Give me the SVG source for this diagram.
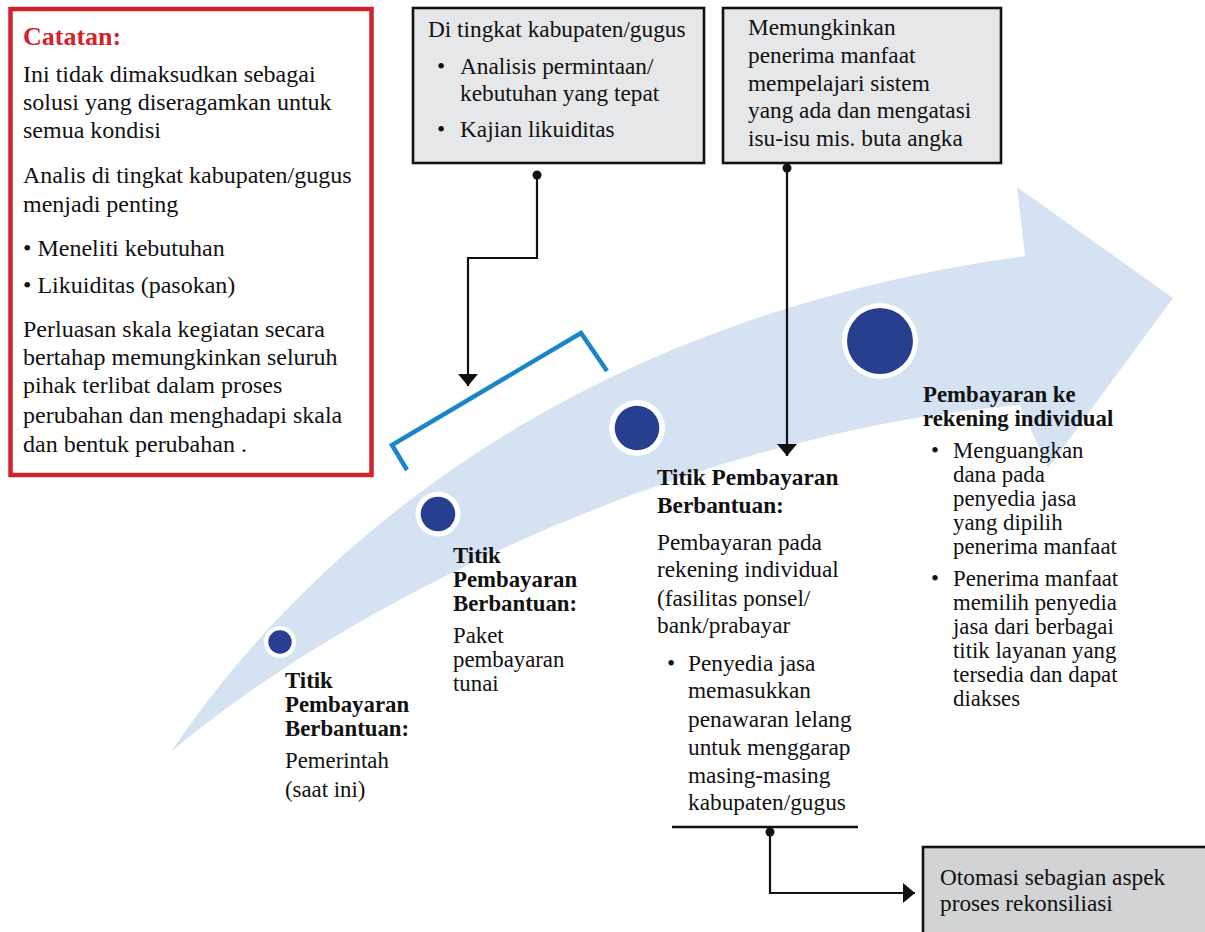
<svg xmlns="http://www.w3.org/2000/svg" width="1205" height="932" viewBox="0 0 1205 932">
<style>
text{font-family:"Liberation Serif","Times New Roman",serif;fill:#111;font-size:23.3px}
.b{font-weight:bold}
.r{font-size:24px}
.t{font-size:22.8px}
.box{fill:#e6e7e8;stroke:#111;stroke-width:2.6}
.dot{fill:#273f8e}
.ring{fill:#fff}
.con{fill:none;stroke:#111;stroke-width:2.2}
</style>
<defs>
<marker id="ah" viewBox="0 0 12 20" refX="12" refY="10" markerWidth="12" markerHeight="20" markerUnits="userSpaceOnUse" orient="auto">
<path d="M0,0 L12,10 L0,20 z" fill="#111"/>
</marker>
<marker id="dt" viewBox="0 0 10 10" refX="5" refY="5" markerWidth="10" markerHeight="10" markerUnits="userSpaceOnUse">
<circle cx="5" cy="5" r="4.5" fill="#111"/>
</marker>
</defs>
<rect width="1205" height="932" fill="#fff"/>
<g id="band">
<path d="M171,752 C300,560 560,320 1025,256 L1017,187 L1173,298 L1048,468 L1020,405 C700,430 350,600 171,752 Z" fill="#d4e2f2"/>
</g>
<g id="bracket">
<polyline points="407,470 392,445 581,333 607,371" fill="none" stroke="#1a86c8" stroke-width="4.5"/>
</g>
<g id="point1">
<circle class="ring" cx="280" cy="642" r="16"/>
<circle class="dot" cx="280" cy="642" r="11.7"/>
</g>
<g id="point2">
<circle class="ring" cx="438" cy="514" r="22.5"/>
<circle class="dot" cx="438" cy="514" r="17.3"/>
</g>
<g id="point3">
<circle class="ring" cx="637" cy="428" r="28"/>
<circle class="dot" cx="637" cy="428" r="22.3"/>
</g>
<g id="point4">
<circle class="ring" cx="880" cy="341" r="38"/>
<circle class="dot" cx="880" cy="341" r="33"/>
</g>
<g id="catatan">
<rect x="10.5" y="9" width="361" height="466" fill="#fff" stroke="#d2232a" stroke-width="4.5"/>
<text x="23" y="45" class="b" style="fill:#d2232a;font-size:26px">Catatan:</text>
<text class="r" x="23" y="82">Ini tidak dimaksudkan sebagai</text>
<text class="r" x="23" y="110">solusi yang diseragamkan untuk</text>
<text class="r" x="23" y="138">semua kondisi</text>
<text class="r" x="23" y="183">Analis di tingkat kabupaten/gugus</text>
<text class="r" x="23" y="212">menjadi penting</text>
<text class="r" x="23" y="256">• Meneliti kebutuhan</text>
<text class="r" x="23" y="293">• Likuiditas (pasokan)</text>
<text class="r" x="23" y="337">Perluasan skala kegiatan secara</text>
<text class="r" x="23" y="365">bertahap memungkinkan seluruh</text>
<text class="r" x="23" y="393">pihak terlibat dalam proses</text>
<text class="r" x="23" y="423">perubahan dan menghadapi skala</text>
<text class="r" x="23" y="452">dan bentuk perubahan .</text>
</g>
<g id="box-kabupaten">
<rect class="box" x="413" y="8" width="291" height="155"/>
<text x="428" y="37">Di tingkat kabupaten/gugus</text>
<text x="437" y="74">•</text>
<text x="460" y="74">Analisis permintaan/</text>
<text x="460" y="101">kebutuhan yang tepat</text>
<text x="437" y="137">•</text>
<text x="460" y="137">Kajian likuiditas</text>
</g>
<g id="box-memungkinkan">
<rect class="box" x="723" y="8" width="278" height="155"/>
<text x="748" y="35">Memungkinkan</text>
<text x="748" y="63">penerima manfaat</text>
<text x="748" y="91">mempelajari sistem</text>
<text x="748" y="118">yang ada dan mengatasi</text>
<text x="748" y="146">isu-isu mis. buta angka</text>
</g>
<g id="label1" class="t">
<text class="b t" x="285" y="688">Titik</text>
<text class="b t" x="285" y="712">Pembayaran</text>
<text class="b t" x="285" y="736">Berbantuan:</text>
<text class="t" x="285" y="768">Pemerintah</text>
<text class="t" x="285" y="797">(saat ini)</text>
</g>
<g id="label2">
<text class="b t" x="453" y="563">Titik</text>
<text class="b t" x="453" y="587">Pembayaran</text>
<text class="b t" x="453" y="611">Berbantuan:</text>
<text class="t" x="453" y="643">Paket</text>
<text class="t" x="453" y="667">pembayaran</text>
<text class="t" x="453" y="691">tunai</text>
</g>
<g id="label3">
<text class="b" x="657" y="485">Titik Pembayaran</text>
<text class="b" x="657" y="513">Berbantuan:</text>
<text x="657" y="550">Pembayaran pada</text>
<text x="657" y="577">rekening individual</text>
<text x="657" y="606">(fasilitas ponsel/</text>
<text x="657" y="633">bank/prabayar</text>
<text x="667" y="671">•</text>
<text x="688" y="671">Penyedia jasa</text>
<text x="688" y="698">memasukkan</text>
<text x="688" y="727">penawaran lelang</text>
<text x="688" y="755">untuk menggarap</text>
<text x="688" y="783">masing-masing</text>
<text x="688" y="810">kabupaten/gugus</text>
<line x1="672" y1="827" x2="858" y2="827" stroke="#111" stroke-width="2.6"/>
</g>
<g id="label4">
<text class="b t" x="923" y="402">Pembayaran ke</text>
<text class="b t" x="923" y="426">rekening individual</text>
<text class="t" x="931" y="458">•</text>
<text class="t" x="953" y="458">Menguangkan</text>
<text class="t" x="953" y="482">dana pada</text>
<text class="t" x="953" y="506">penyedia jasa</text>
<text class="t" x="953" y="530">yang dipilih</text>
<text class="t" x="953" y="554">penerima manfaat</text>
<text class="t" x="931" y="586">•</text>
<text class="t" x="953" y="586">Penerima manfaat</text>
<text class="t" x="953" y="610">memilih penyedia</text>
<text class="t" x="953" y="634">jasa dari berbagai</text>
<text class="t" x="953" y="658">titik layanan yang</text>
<text class="t" x="953" y="682">tersedia dan dapat</text>
<text class="t" x="953" y="706">diakses</text>
</g>
<g id="box-otomasi">
<rect x="923" y="847" width="300" height="110" fill="#d1d3d4" stroke="#111" stroke-width="2.6"/>
<text x="940" y="885">Otomasi sebagian aspek</text>
<text x="940" y="911">proses rekonsiliasi</text>
</g>
<g id="connectors">
<path class="con" d="M537,175 V258 H468 V386" marker-start="url(#dt)" marker-end="url(#ah)"/>
<path class="con" d="M787,168 V456" marker-start="url(#dt)" marker-end="url(#ah)"/>
<path class="con" d="M770,832 V893 H915" stroke-width="2.6" marker-start="url(#dt)" marker-end="url(#ah)"/>
</g>
</svg>
